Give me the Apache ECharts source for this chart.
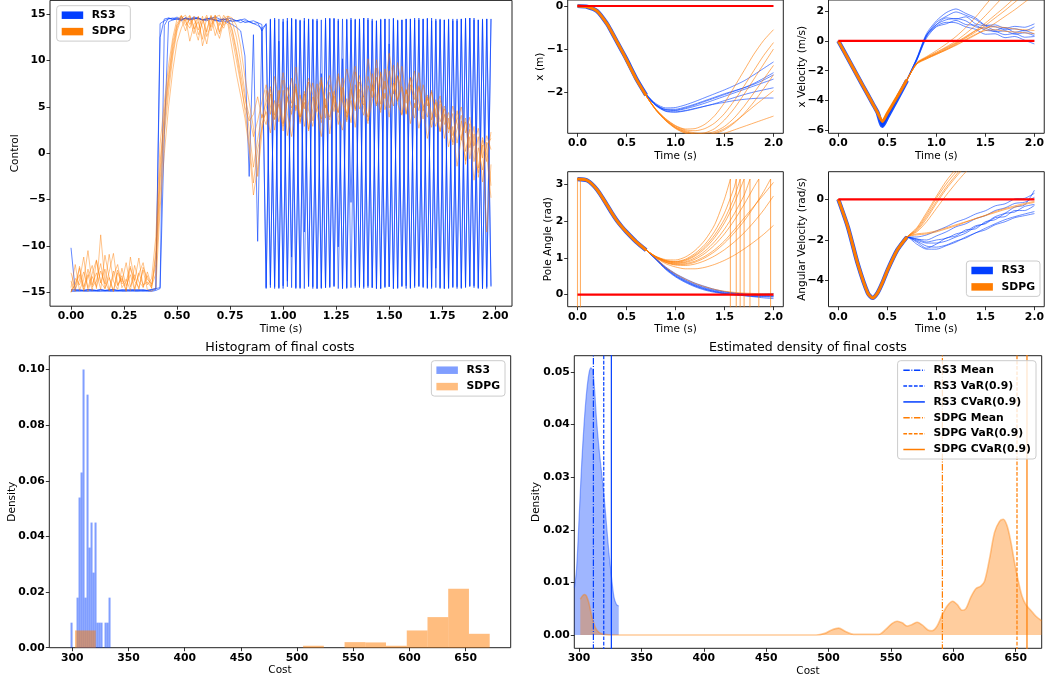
<!DOCTYPE html>
<html><head><meta charset="utf-8">
<script src="https://cdn.jsdelivr.net/npm/echarts/dist/echarts.min.js"></script>
<style>html,body{margin:0;padding:0;background:#fff}#c{width:1047px;height:678px}</style>
</head><body><div id="c"></div>
<script>
// ---------------- DATA ----------------
const methods = ['RS3', 'SDPG'];
// control trajectories, sampled every 0.02 s
const rs3U1 = [-10.2,-14.8,-14.9,-14.8,-14.8,-14.9,-14.8,-14.8,-14.9,-14.8,-14.8,-14.9,-14.8,-14.8,-14.9,-14.8,-14.8,-14.9,-14.8,-14.8,-14.7,
 14.0,14.3,14.5,14.6,14.5,14.4,14.6,14.5,14.5,14.6,14.4,14.5,14.5,14.3,14.4,14.5,14.2,14.4,14.3,14.1,14.3,14.2,14.0,14.1,13.9,
 -14.5,14.4,-14.6,14.5,-14.3,14.6,-14.5,14.4,-14.6,14.3,-14.4,14.5,-14.6,14.4,-14.5,14.6,-14.3,14.5,-14.6,14.4,
 -14.5,14.5,-14.4,14.6,-14.5,14.3,-14.6,14.5,-14.4,14.5,-14.6,14.4,-14.3,14.5,-14.5,14.6,-14.4,14.5,-14.6,14.3,
 -14.5,14.4,-14.6,14.5,-14.4,14.5,-14.5,14.6,-14.3,14.4,-14.6,14.5,-14.4,14.5];
const rs3U2 = [-14.7,-14.8,-14.7,-14.8,-14.7,-14.7,-14.8,-14.7,-14.8,-14.7,-14.7,-14.8,-14.7,-14.8,-14.7,-14.7,-14.8,-14.7,-14.8,-14.7,-14.6,-14.5,
 13.8,14.6,14.5,14.7,14.4,14.6,14.5,14.7,14.6,14.4,14.5,14.6,14.7,14.5,14.4,14.6,14.5,14.3,14.4,14.5,14.2,14.3,14.1,13.2,14.0,
 -14.2,14.6,-14.5,14.2,-13.8,14.5,-14.6,14.4,-8.5,14.5,-14.6,14.3,-14.5,14.6,-14.4,14.5,-14.6,10.2,-14.5,14.6,
 -14.3,14.5,-14.6,14.4,-14.5,14.3,-14.6,14.5,-14.4,14.6,-14.5,14.4,-14.6,14.5,-14.3,14.4,-14.5,14.6,-14.4,14.5,
 -14.6,14.4,-14.5,14.3,-14.6,14.5,-14.4,14.6,-14.5,14.4,-14.6,14.5,-14.3];
const rs3U3 = [-14.9,-14.9,-14.8,-14.9,-14.9,-14.8,-14.9,-14.9,-14.8,-14.9,-14.9,-14.8,-14.9,-14.9,-14.8,-14.9,-14.9,-14.8,-14.9,-14.9,-14.8,-14.6,
 2.0,14.2,14.4,14.5,14.3,14.6,14.4,14.5,14.6,14.4,14.3,14.5,14.4,14.2,14.3,14.1,13.9,13.6,13.2,10.5,-2.5,12.8,-9.5,13.5,
 -14.6,14.5,-14.4,12.1,-14.6,14.3,-11.2,14.5,-14.5,14.6,-14.3,14.4,-14.6,8.6,-14.5,14.5,-14.4,14.3,-14.6,14.5,
 -5.3,14.4,-14.5,14.6,-14.3,14.5,-14.6,14.4,-14.5,11.8,-14.6,14.3,-14.4,14.5,-14.6,14.4,-14.3,14.5,-14.5,14.6,
 -12.4,14.5,-14.6,14.4,-14.5,14.3,-14.6,14.5,-14.4,14.6,-14.5,14.4,-14.6,14.5];
const rs3U4 = [-14.8,-14.7,-14.8,-14.8,-14.7,-14.8,-14.8,-14.7,-14.8,-14.8,-14.7,-14.8,-14.8,-14.7,-14.8,-14.8,-14.7,-14.8,-14.8,-14.7,-14.6,
 12.5,14.5,14.6,14.4,14.5,14.6,14.5,14.4,14.6,14.5,14.4,14.5,14.6,14.4,14.3,14.5,14.4,14.2,14.3,14.4,14.1,14.2,14.0,13.8,13.5,13.9,
 -14.5,14.4,-14.6,14.5,-14.4,14.6,-14.5,14.3,-14.6,14.5,-14.4,14.5,-14.6,14.4,-14.5,14.6,-10.1,14.5,-14.6,14.4,
 -14.5,14.5,-14.4,14.6,-14.5,14.3,-14.6,14.5,-14.4,14.5,-14.6,14.4,-14.3,14.5,-14.5,14.6,-14.4,14.5,-14.6,14.3,
 -14.5,14.4,-14.6,14.5,-14.4,14.5,-14.5,14.6,-14.3,14.4,-14.6,14.5,-14.4];
const sdpgU1 = [-15,-13.5,-14.2,-12.8,-14.5,-13,-11.5,-14,-12.5,-14.8,-13.2,-12,-14.5,-13.8,-12.2,-14.6,-13,-11.8,-14.2,-13.5,
 -9,1,5.5,9.5,12.5,14.5,14.8,14.2,13.5,14.8,12.8,14.1,14.9,13.2,14.6,13.8,14.9,14.2,12.5,10,7.5,5,3.5,4.2,6.1,3.8,
 5.5,7.2,4.1,6.8,3.2,5.9,8.1,4.6,6.3,2.9,5.4,7.6,5.1,3.7,6.9,8.4,5.2,4.4,7.1,3.9,
 6.2,8.8,5.6,4.1,7.3,6.0,9.2,5.3,7.8,4.9,6.6,8.3,4.2,6.9,5.5,3.8,7.1,4.6,5.9,2.8,
 4.9,6.2,3.1,4.4,1.9,3.6,5.0,2.2,3.9,0.8,2.7,-0.5,1.9,0.4];
const sdpgU2 = [-14.5,-12,-14.8,-13.6,-10.5,-14.2,-12.9,-14.7,-11,-13.4,-14.9,-12.6,-13.9,-11.8,-14.4,-13.1,-14.7,-12.3,-13.6,-14.1,
 -12,-3,3,7.5,11,13.5,14.9,13.8,14.5,12.9,14.8,13.6,11.8,14.3,14.9,13.1,14.6,14.8,14.2,12.5,9.8,6.5,2.5,-1.5,1.5,4.2,
 3.1,6.4,2.5,5.8,7.9,4.3,1.8,5.2,3.9,6.7,2.4,4.8,7.5,3.3,5.9,2.1,6.2,4.4,8.1,3.6,
 5.7,2.8,6.9,4.9,3.2,7.4,5.1,8.6,4.7,6.3,9.5,5.8,7.2,4.3,6.8,8.9,5.4,3.7,6.1,4.2,
 2.9,5.3,1.6,3.8,0.9,2.6,4.1,-1.2,1.8,-2.9,0.6,-1.8,1.2,-3.5];
const sdpgU3 = [-15,-14.1,-12.4,-14.9,-13.3,-12.1,-14.6,-8.8,-13.9,-14.8,-12.7,-14.3,-13.2,-14.9,-11.2,-13.8,-14.5,-12.6,-14.7,-14.9,
 -14.5,-6,0,5,9,12,13.5,14.6,12.1,13.9,14.7,11.6,13.4,14.8,12.7,14.1,13.5,14.8,14.6,13.8,11.5,8.2,5.5,2.8,-2.5,2.1,
 6.8,4.2,8.3,5.6,2.9,7.1,5.4,9.3,6.2,4.8,7.7,3.5,6.6,8.2,4.9,7.4,5.8,3.1,6.5,9.1,
 7.2,4.6,8.4,6.1,10.2,7.5,5.3,8.8,6.9,10.8,7.8,5.6,9.4,6.4,8.1,4.9,7.3,5.2,3.9,6.6,
 4.1,2.4,5.1,3.3,1.2,4.6,2.1,-0.8,3.2,0.5,-2.1,1.4,-0.9,2.3];
const sdpgU4 = [-13.8,-14.9,-12.2,-14.4,-13.1,-14.8,-11.6,-13.9,-14.6,-12.8,-10.8,-14.2,-13.5,-14.8,-12.4,-13.7,-11.3,-14.5,-13.2,-14.6,
 -10.5,-1,4,8,11.5,13.8,14.5,13.2,14.8,13.7,12.2,14.5,13.1,14.9,13.6,12.4,14.2,13.9,11.2,8.5,6.2,3.8,0.5,-4.5,-1.5,3.2,
 4.5,2.2,5.7,3.4,6.8,1.9,4.6,7.2,3.9,5.5,2.6,6.1,4.3,1.8,5.2,3.6,6.7,4.1,2.5,5.9,
 3.3,7.4,4.8,6.2,3.5,5.6,8.2,4.7,6.5,3.9,7.6,5.3,4.1,6.8,3.2,5.4,2.7,4.9,1.6,3.8,
 5.5,2.3,4.2,0.7,2.9,-1.4,1.6,3.4,-0.6,2.1,-2.6,0.9,-8.5,-1.2];
const sdpgU5 = [-14.9,-14.2,-13.1,-14.7,-12.5,-14.4,-13.8,-11.9,-14.6,-13.4,-14.9,-12.9,-14.1,-13.6,-14.8,-12.1,-13.9,-14.4,-12.8,-14.3,
 -13,-4.5,2,6.5,10.5,13.2,14.6,14.9,13.9,14.6,13.3,14.8,12.6,13.9,14.7,14.9,13.8,14.5,13.4,11.2,8.6,5.9,4.1,1.8,3.5,5.6,
 7.4,5.1,3.6,6.2,8.7,5.8,4.2,6.9,3.4,5.7,8.1,6.3,4.5,7.9,5.2,3.9,6.4,8.6,5.7,4.3,
 7.6,9.4,6.1,5.2,8.3,6.7,10.1,7.2,5.9,8.9,6.4,9.8,7.1,5.4,8.2,6.3,4.6,7.4,5.1,6.8,
 3.9,5.7,4.2,2.6,5.1,3.3,1.4,3.8,0.6,2.9,-1.6,1.7,-0.2,-4.8];
const sdpgU6 = [-12.9,-14.6,-13.7,-11.2,-14.9,-13.3,-14.4,-12.7,-14.1,-10.9,-13.8,-14.7,-12.4,-14.3,-13.1,-14.8,-12.9,-14.2,-13.9,-14.5,
 -11,-2,4.5,8.5,12,14,14.8,14.3,14.9,13.4,14.2,12.3,14.7,13.6,14.9,12.9,14.4,14.6,13.1,10.8,7.9,4.6,1.2,-3.2,0.4,2.6,
 4.8,6.9,3.7,5.3,2.4,6.1,4.9,7.5,3.2,6.4,4.7,2.9,5.8,7.7,3.8,6.6,4.5,8.3,5.6,3.4,
 6.9,4.8,7.7,5.5,3.9,8.6,6.2,4.4,9.1,6.8,5.1,8.4,6.6,4.2,7.4,5.8,8.7,4.9,6.3,3.6,
 5.8,3.4,4.8,2.2,4.3,1.1,3.5,0.2,2.6,-0.9,1.8,-3.1,0.9,1.6];

// state trajectories sampled at these times
const tS = [0,0.1,0.2,0.3,0.35,0.4,0.45,0.5,0.6,0.7,0.8,0.9,1.0,1.1,1.2,1.3,1.4,1.5,1.6,1.7,1.8,1.9,2.0];
const xPosRS3 = [
 [0,-0.02,-0.12,-0.40,-0.60,-0.81,-1.02,-1.23,-1.68,-2.05,-2.30,-2.42,-2.42,-2.37,-2.30,-2.22,-2.14,-2.06,-1.98,-1.90,-1.80,-1.68,-1.55],
 [0,-0.02,-0.12,-0.41,-0.61,-0.82,-1.03,-1.24,-1.69,-2.07,-2.32,-2.45,-2.47,-2.44,-2.39,-2.33,-2.27,-2.20,-2.13,-2.06,-2.00,-1.95,-1.90],
 [0,-0.02,-0.12,-0.40,-0.60,-0.81,-1.02,-1.23,-1.67,-2.04,-2.27,-2.37,-2.36,-2.30,-2.22,-2.13,-2.04,-1.95,-1.85,-1.74,-1.60,-1.45,-1.30],
 [0,-0.02,-0.12,-0.41,-0.61,-0.82,-1.03,-1.24,-1.69,-2.07,-2.31,-2.44,-2.46,-2.43,-2.38,-2.33,-2.28,-2.24,-2.20,-2.17,-2.15,-2.14,-2.14],
 [0,-0.02,-0.12,-0.40,-0.60,-0.81,-1.02,-1.23,-1.68,-2.06,-2.29,-2.40,-2.40,-2.35,-2.28,-2.20,-2.12,-2.04,-1.97,-1.90,-1.82,-1.72,-1.60],
 [0,-0.02,-0.12,-0.40,-0.60,-0.81,-1.02,-1.23,-1.68,-2.06,-2.30,-2.41,-2.43,-2.39,-2.33,-2.26,-2.18,-2.10,-2.02,-1.94,-1.86,-1.78,-1.70]];
const xPosSDPG = [
 [0,-0.02,-0.12,-0.41,-0.61,-0.82,-1.03,-1.25,-1.70,-2.08,-2.40,-2.62,-2.78,-2.86,-2.85,-2.75,-2.55,-2.25,-1.88,-1.50,-1.12,-0.80,-0.55],
 [0,-0.02,-0.12,-0.41,-0.61,-0.82,-1.03,-1.25,-1.71,-2.09,-2.42,-2.66,-2.83,-2.93,-2.97,-2.95,-2.85,-2.65,-2.38,-2.05,-1.70,-1.35,-1.00],
 [0,-0.02,-0.13,-0.42,-0.62,-0.83,-1.04,-1.26,-1.71,-2.09,-2.41,-2.65,-2.82,-2.92,-2.98,-3.00,-2.97,-2.88,-2.72,-2.50,-2.23,-1.92,-1.60],
 [0,-0.02,-0.12,-0.41,-0.61,-0.82,-1.03,-1.25,-1.70,-2.09,-2.42,-2.67,-2.85,-2.96,-3.02,-3.04,-3.02,-2.96,-2.88,-2.80,-2.72,-2.64,-2.56],
 [0,-0.02,-0.12,-0.41,-0.61,-0.82,-1.03,-1.25,-1.70,-2.08,-2.40,-2.63,-2.79,-2.88,-2.90,-2.85,-2.72,-2.50,-2.20,-1.86,-1.50,-1.15,-0.85],
 [0,-0.02,-0.12,-0.41,-0.61,-0.82,-1.03,-1.25,-1.70,-2.08,-2.41,-2.64,-2.81,-2.90,-2.95,-2.96,-2.92,-2.80,-2.60,-2.33,-2.02,-1.70,-1.38],
 [0,-0.02,-0.13,-0.42,-0.62,-0.83,-1.04,-1.26,-1.71,-2.09,-2.42,-2.66,-2.84,-2.95,-3.00,-3.00,-2.95,-2.85,-2.70,-2.52,-2.33,-2.15,-1.97]];
const xVelRS3 = [
 [0,-1.2,-2.4,-3.6,-4.2,-4.8,-5.6,-5.05,-3.85,-2.6,-1.2,0.4,1.1,1.55,1.48,1.62,1.15,1.0,0.72,0.9,0.58,0.7,0.45],
 [0,-1.2,-2.4,-3.6,-4.2,-4.8,-5.7,-5.1,-3.9,-2.65,-1.3,0.2,0.95,1.15,1.38,1.1,1.05,0.72,0.65,0.42,0.5,0.25,0.3],
 [0,-1.2,-2.4,-3.6,-4.2,-4.8,-5.65,-5.1,-3.85,-2.6,-1.15,0.5,1.35,1.9,2.15,1.85,1.55,1.05,0.95,0.75,0.82,0.68,0.95],
 [0,-1.2,-2.4,-3.6,-4.2,-4.8,-5.55,-5.0,-3.8,-2.55,-1.25,0.3,1.0,1.25,1.22,0.95,0.78,0.45,0.48,0.22,0.3,0.05,-0.2],
 [0,-1.2,-2.4,-3.6,-4.2,-4.8,-5.75,-5.15,-3.9,-2.65,-1.3,0.35,1.25,1.65,1.95,1.72,1.45,1.05,1.08,0.85,0.98,0.92,1.15],
 [0,-1.2,-2.4,-3.6,-4.2,-4.8,-5.6,-5.05,-3.85,-2.6,-1.2,0.4,1.1,1.42,1.5,1.35,0.95,0.85,0.62,0.68,0.45,0.55,0.35]];
const xVelSDPG = [
 [0,-1.2,-2.4,-3.6,-4.2,-4.8,-5.4,-4.85,-3.75,-2.6,-1.5,-1.1,-0.75,-0.4,0.0,0.5,1.05,1.7,2.4,3.1,3.8,4.5,5.2],
 [0,-1.2,-2.4,-3.6,-4.2,-4.8,-5.4,-4.85,-3.75,-2.6,-1.5,-1.15,-0.85,-0.55,-0.2,0.2,0.6,1.05,1.55,2.05,2.6,3.15,3.7],
 [0,-1.2,-2.4,-3.6,-4.2,-4.8,-5.4,-4.85,-3.75,-2.6,-1.55,-1.2,-0.9,-0.6,-0.3,0.05,0.4,0.8,1.2,1.65,2.1,2.6,3.1],
 [0,-1.2,-2.4,-3.6,-4.2,-4.8,-5.4,-4.85,-3.75,-2.6,-1.5,-1.1,-0.8,-0.45,-0.1,0.3,0.7,0.9,0.95,0.9,0.8,0.75,0.7],
 [0,-1.2,-2.4,-3.6,-4.2,-4.8,-5.4,-4.85,-3.75,-2.6,-1.45,-1.05,-0.65,-0.2,0.3,0.9,1.6,2.4,3.2,4.0,4.8,5.6,6.4],
 [0,-1.2,-2.4,-3.6,-4.2,-4.8,-5.4,-4.85,-3.75,-2.6,-1.5,-1.15,-0.85,-0.5,-0.15,0.25,0.7,1.2,1.75,2.3,2.9,3.5,4.1],
 [0,-1.2,-2.4,-3.6,-4.2,-4.8,-5.4,-4.85,-3.75,-2.6,-1.55,-1.2,-0.9,-0.6,-0.25,0.1,0.45,0.7,0.75,0.65,0.6,0.55,0.5]];
// pole angle: common start (first 10 samples of tS), then tails
const poleStart = [3.14,3.1,2.85,2.44,2.22,2.02,1.85,1.7,1.43,1.21];
const poleTailRS3 = [
 [0.97,0.72,0.53,0.38,0.26,0.17,0.10,0.05,0.02,0.00,-0.02,-0.03,-0.04],
 [0.95,0.68,0.48,0.33,0.21,0.12,0.06,0.02,-0.01,-0.03,-0.05,-0.06,-0.07],
 [0.98,0.75,0.57,0.43,0.31,0.22,0.14,0.08,0.04,0.01,-0.01,-0.02,-0.02],
 [0.96,0.70,0.50,0.35,0.23,0.14,0.08,0.03,0.00,-0.03,-0.06,-0.09,-0.11],
 [0.97,0.73,0.55,0.40,0.28,0.19,0.12,0.07,0.04,0.02,0.01,0.02,0.03],
 [0.96,0.71,0.51,0.36,0.24,0.15,0.08,0.03,0.00,-0.02,-0.04,-0.05,-0.05]];
const poleTailSDPG = [
 [[0.8,1.03],[0.9,0.92],[1.0,0.88],[1.1,0.92],[1.2,1.05],[1.3,1.25],[1.4,1.55],[1.5,1.95],[1.6,2.48],[1.7,3.14]],
 [[0.8,1.02],[0.9,0.9],[1.0,0.85],[1.1,0.87],[1.2,0.96],[1.3,1.12],[1.4,1.35],[1.5,1.65],[1.6,2.02],[1.7,2.45],[1.8,2.92],[1.85,3.14]],
 [[0.8,1.04],[0.9,0.95],[1.0,0.94],[1.1,1.02],[1.2,1.2],[1.3,1.48],[1.4,1.9],[1.5,2.6],[1.56,3.14]],
 [[0.8,1.01],[0.9,0.87],[1.0,0.8],[1.1,0.79],[1.2,0.83],[1.3,0.92],[1.4,1.05],[1.5,1.22],[1.6,1.43],[1.7,1.68],[1.8,1.97],[1.9,2.3],[2.0,2.68]],
 [[0.8,1.02],[0.9,0.88],[1.0,0.82],[1.1,0.82],[1.2,0.88],[1.3,1.0],[1.4,1.17],[1.5,1.4],[1.6,1.68],[1.7,2.0],[1.8,2.38],[1.9,2.8],[1.97,3.14]],
 [[0.8,0.98],[0.9,0.74],[1.0,0.56],[1.1,0.42],[1.2,0.3],[1.3,0.21],[1.4,0.14],[1.5,0.09],[1.6,0.06],[1.7,0.04],[1.8,0.03],[1.9,0.02],[2.0,0.02]],
 [[0.8,1.0],[0.9,0.84],[1.0,0.75],[1.1,0.7],[1.2,0.7],[1.3,0.74],[1.4,0.82],[1.5,0.93],[1.6,1.07],[1.7,1.24],[1.8,1.43],[1.9,1.64],[2.0,1.88]],
 [[0.8,1.03],[0.9,0.93],[1.0,0.9],[1.1,0.96],[1.2,1.12],[1.3,1.36],[1.4,1.72],[1.5,2.22],[1.6,2.92],[1.62,3.14]],
 [[0.8,1.02],[0.9,0.91],[1.0,0.86],[1.1,0.89],[1.2,1.0],[1.3,1.18],[1.4,1.44],[1.5,1.78],[1.6,2.2],[1.7,2.7],[1.76,3.14]],
 [[0.8,1.01],[0.9,0.88],[1.0,0.83],[1.1,0.84],[1.2,0.91],[1.3,1.04],[1.4,1.22],[1.5,1.46],[1.6,1.76],[1.7,2.08],[1.8,2.4],[1.9,2.72],[2.0,3.05]],
 [[0.8,1.03],[0.9,0.92],[1.0,0.89],[1.1,0.94],[1.2,1.08],[1.3,1.3],[1.4,1.62],[1.5,2.05],[1.6,2.65],[1.66,3.14]]];
const poleWrapStartSDPG = [[0,3.14],[0,-3.14],[0.03,-3.14],[0.03,3.13]];
const poleWrapLimit = 3.14;
// angular velocity: common start then tails
const angStart = [0,-1.4,-3.2,-4.6,-4.85,-4.6,-4.1,-3.5,-2.5,-1.85];
const angTailRS3 = [
 [-1.95,-2.1,-2.0,-1.92,-1.7,-1.58,-1.3,-1.2,-0.9,-0.85,-0.55,-0.55,-0.3],
 [-2.2,-2.45,-2.45,-2.28,-2.1,-1.85,-1.65,-1.42,-1.2,-1.0,-0.85,-0.72,-0.6],
 [-1.85,-1.75,-1.55,-1.35,-1.12,-0.95,-0.72,-0.56,-0.32,-0.22,0.02,0.05,0.3],
 [-2.05,-2.3,-2.35,-2.25,-2.05,-1.9,-1.65,-1.5,-1.25,-1.1,-0.9,-0.8,-0.7],
 [-1.95,-2.0,-1.8,-1.6,-1.35,-1.2,-0.95,-0.8,-0.55,-0.42,-0.2,-0.14,0.1],
 [-2.0,-2.15,-2.15,-2.05,-1.85,-1.66,-1.36,-1.16,-0.85,-0.68,-0.38,-0.28,0.45],
 [-2.1,-2.4,-2.2,-1.9,-1.8,-1.5,-1.45,-1.1,-1.0,-0.7,-0.62,-0.35,-0.25]];
const angTailSDPG = [
 [-1.45,-0.75,0.05,0.75,1.35,1.9,2.4,2.9,3.3,3.7,4.0,4.3,4.6],
 [-1.55,-0.95,-0.2,0.5,1.1,1.65,2.15,2.6,3.0,3.4,3.7,4.0,4.3],
 [-1.5,-0.85,-0.1,0.6,1.2,1.8,2.3,2.8,3.2,3.6,3.9,4.2,4.5],
 [-1.7,-1.65,-1.55,-1.4,-1.25,-1.1,-0.95,-0.8,-0.65,-0.5,-0.38,-0.25,-0.15],
 [-1.4,-0.65,0.15,0.9,1.5,2.0,2.5,3.0,3.4,3.8,4.1,4.4,4.7],
 [-1.75,-1.7,-1.6,-1.45,-1.3,-1.12,-0.95,-0.78,-0.6,-0.45,-0.32,-0.2,-0.1],
 [-1.6,-1.1,-0.45,0.2,0.8,1.35,1.85,2.3,2.7,3.1,3.4,3.7,4.0]];
const targetLine = [[0,0],[2,0]];

// histogram of final costs (bin edges + densities)
const rs3BinEdges = [298.4,300.18,301.96,303.74,305.52,307.3,309.08,310.86,312.64,314.42,316.2,317.98,319.76,321.54,323.32,325.1,326.88,328.66,330.44,332.22,334.0];
const rs3BinDens = [0.009,0,0,0.018,0.054,0.063,0.100,0.018,0.091,0.036,0.045,0.027,0.045,0.009,0.009,0.009,0,0.009,0.009,0.018];
const sdpgBinEdges = [302.4,320.85,339.3,357.75,376.2,394.65,413.1,431.55,450.0,468.45,486.9,505.35,523.8,542.25,560.7,579.15,597.6,616.05,634.5,652.95,671.4];
const sdpgBinDens = [0.0062,0,0,0,0,0,0,0,0,0,0,0.0007,0,0.002,0.0019,0.0007,0.0062,0.011,0.0212,0.005];

// kernel density estimates
const rs3KdeX = [296.3,298,300,302,304,306,308,309.5,311,312.5,314,316,318,320,322,324,326,328,330,331.8];
const rs3KdeY = [0.009,0.0125,0.022,0.032,0.040,0.046,0.0498,0.0508,0.0503,0.0465,0.041,0.0355,0.031,0.0265,0.021,0.0155,0.011,0.0072,0.0058,0.0055];
const sdpgKdeX = [301,303,304.5,306,308,310,312,314,316,320,330,490,497,502,508,514,520,540,546,551,555,559,563,567,571,575,580,583,587,591,595,599.5,603,607,610,614,618,622,625,629,633,637,640,643,646,649,652,655,658,662,666,670.8];
const sdpgKdeY = [0.0068,0.0075,0.0077,0.0074,0.006,0.0038,0.0021,0.001,0.0005,0.0001,0,0,0.0003,0.0009,0.0013,0.0006,0.0001,0.0001,0.0011,0.0022,0.0026,0.0023,0.0017,0.002,0.0024,0.0019,0.0009,0.0008,0.0017,0.0038,0.0055,0.0064,0.0058,0.0047,0.005,0.0072,0.0088,0.0093,0.0102,0.0145,0.0195,0.0216,0.022,0.0208,0.0178,0.0138,0.0103,0.0074,0.0058,0.0047,0.0036,0.0027];
const statNames = ['Mean','VaR(0.9)','CVaR(0.9)'];
const rs3Stats = [311.5,319.8,325.9];
const sdpgStats = [591.2,651.0,659.0];

// tick labels
const ticksControlX = [0,0.25,0.5,0.75,1,1.25,1.5,1.75,2];
const ticksControlY = [-15,-10,-5,0,5,10,15];
const ticksTime = [0,0.5,1,1.5,2];
const ticksXPos = [-2,-1,0];
const ticksXVel = [-6,-4,-2,0,2];
const ticksPole = [0,1,2,3];
const ticksAng = [-4,-2,0];
const ticksCost = [300,350,400,450,500,550,600,650];
const ticksHistY = [0,0.02,0.04,0.06,0.08,0.10];
const ticksKdeY = [0,0.01,0.02,0.03,0.04,0.05];

// ---------------- CHART ----------------
const C_RS3 = '#023eff', C_SDPG = '#ff7c00', C_RED = '#ff0000';
const FONT = 'DejaVu Sans';
const tControl = rs3U1.map((_, i) => Math.round(i * 2) / 100);

const grids = [
  {left:50, top:0.4, width:462, height:305.8},
  {left:567.7, top:0, width:215.6, height:133.3},
  {left:828.5, top:0, width:216.8, height:133.3},
  {left:567.7, top:171.7, width:215.6, height:135},
  {left:828.5, top:171.7, width:216.8, height:135},
  {left:49.3, top:355.7, width:461.4, height:292},
  {left:574.3, top:355.7, width:467.4, height:292.6}
].map(g => Object.assign(g, {show:true, borderColor:'#222', borderWidth:1, backgroundColor:'rgba(0,0,0,0)'}));

function fmt(d) { return v => (v < 0 ? '\u2212' : '') + Math.abs(v).toFixed(d); }
function axis(dim, gi, min, max, ticks, d, name, gap) {
  const a = {type:'value', gridIndex:gi, min, max, name, nameLocation:'middle', nameGap:gap, nameMoveOverlap:false,
    nameTextStyle:{fontFamily:FONT, fontSize:10.5, color:'#000'},
    axisLine:{show:false, onZero:false}, splitLine:{show:false},
    axisTick:{show:true, inside:false, length:3.5, lineStyle:{color:'#000', width:0.8}, customValues:ticks},
    axisLabel:{show:true, customValues:ticks, formatter:fmt(d), fontFamily:FONT, fontWeight:'bold', fontSize:10.8, color:'#000', margin:4.5}};
  if (dim === 'y') a.nameRotate = 90;
  return a;
}
const xAxis = [
  axis('x',0,-0.099,2.079,ticksControlX,2,'Time (s)',18),
  axis('x',1,-0.1,2.1,ticksTime,1,'Time (s)',17.5),
  axis('x',2,-0.1,2.1,ticksTime,1,'Time (s)',17.5),
  axis('x',3,-0.1,2.1,ticksTime,1,'Time (s)',17.5),
  axis('x',4,-0.1,2.1,ticksTime,1,'Time (s)',17.5),
  axis('x',5,279.5,690.1,ticksCost,0,'Cost',17.5),
  axis('x',6,296.2,670.8,ticksCost,0,'Cost',17.5)];
const yAxis = [
  axis('y',0,-16.5,16.5,ticksControlY,0,'Control',29),
  axis('y',1,-2.96,0.14,ticksXPos,0,'x (m)',22.4),
  axis('y',2,-6.2,2.75,ticksXVel,0,'x Velocity (m/s)',20.8),
  axis('y',3,-0.33,3.34,ticksPole,0,'Pole Angle (rad)',13.7),
  axis('y',4,-5.28,1.36,ticksAng,0,'Angular Velocity (rad/s)',20.8),
  axis('y',5,0,0.105,ticksHistY,2,'Density',31.6),
  axis('y',6,-0.00254,0.0531,ticksKdeY,2,'Density',32.3)];

const series = [];
function line(name, gi, data, color, opacity, width, smooth, extra) {
  const s = {type:'line', name, xAxisIndex:gi, yAxisIndex:gi, data, symbol:'none', showSymbol:false,
    smooth: smooth || false, lineStyle:{color, opacity, width}, itemStyle:{color}, silent:true, clip:true};
  return Object.assign(s, extra || {});
}
const onGrid = arr => arr.map((v, i) => [tS[i], v]);

// control
[rs3U1, rs3U2, rs3U3, rs3U4].forEach(u => series.push(line('RS3', 0, u.map((v, i) => [tControl[i], v]), C_RS3, 0.62, 1)));
[sdpgU1, sdpgU2, sdpgU3, sdpgU4, sdpgU5, sdpgU6].forEach(u => series.push(line('SDPG', 0, u.map((v, i) => [tControl[i], v]), C_SDPG, 0.45, 1)));

// generic state panel
function statePanel(gi, rs3Traces, sdpgTraces, bundleRS3, bundleSDPG, extraSDPG) {
  rs3Traces.forEach(d => series.push(line('RS3', gi, d, C_RS3, 0.6, 1, 0.25)));
  series.push(line('RS3', gi, bundleRS3, C_RS3, 0.9, 4.2, 0.25));
  sdpgTraces.forEach(d => series.push(line('SDPG', gi, d, C_SDPG, 0.6, 1, 0.25)));
  (extraSDPG || []).forEach(d => series.push(line('SDPG', gi, d, C_SDPG, 0.6, 1.1, false)));
  series.push(line('SDPG', gi, bundleSDPG, C_SDPG, 1, 3, 0.25));
  series.push(line('target', gi, targetLine, C_RED, 1, 2.2, false));
}
statePanel(1, xPosRS3.map(onGrid), xPosSDPG.map(onGrid), onGrid(xPosRS3[1]).slice(0, 10), onGrid(xPosSDPG[0]).slice(0, 10));
statePanel(2, xVelRS3.map(onGrid), xVelSDPG.map(onGrid), onGrid(xVelRS3[1]).slice(0, 10), onGrid(xVelSDPG[0]).slice(0, 10));
const poleStartPairs = poleStart.map((v, i) => [tS[i], v]);
const poleWraps = poleTailSDPG.filter(tr => tr[tr.length - 1][1] >= poleWrapLimit)
  .map(tr => { const p = tr[tr.length - 1]; return [[p[0], p[1]], [p[0], -p[1]]]; });
statePanel(3, poleTailRS3.map(tl => onGrid(poleStart.concat(tl))), poleTailSDPG.map(tl => poleStartPairs.concat(tl)),
  poleStartPairs, poleStartPairs, poleWraps.concat([poleWrapStartSDPG]));
statePanel(4, angTailRS3.map(tl => onGrid(angStart.concat(tl))), angTailSDPG.map(tl => onGrid(angStart.concat(tl))),
  onGrid(angStart), onGrid(angStart));

// histogram
function hist(name, edges, dens, fill) {
  const data = dens.map((h, i) => [edges[i], edges[i + 1], h]).filter(d => d[2] > 0);
  return {type:'custom', name, xAxisIndex:5, yAxisIndex:5, data, encode:{x:[0,1], y:2}, silent:true,
    itemStyle:{color:fill},
    renderItem: (p, api) => {
      const a = api.coord([api.value(0), api.value(2)]);
      const b = api.coord([api.value(1), 0]);
      return {type:'rect', shape:{x:a[0], y:a[1], width:b[0] - a[0], height:b[1] - a[1]}, style:{fill}};
    }};
}
series.push(hist('RS3', rs3BinEdges, rs3BinDens, 'rgba(2,62,255,0.5)'));
series.push(hist('SDPG', sdpgBinEdges, sdpgBinDens, 'rgba(255,124,0,0.5)'));

// KDE
series.push(line('RS3 KDE', 6, rs3KdeX.map((x, i) => [x, rs3KdeY[i]]), C_RS3, 0.4, 1.2, 0.3, {areaStyle:{color:C_RS3, opacity:0.38}}));
series.push(line('SDPG KDE', 6, sdpgKdeX.map((x, i) => [x, sdpgKdeY[i]]), C_SDPG, 0.4, 1.6, 0.3, {areaStyle:{color:C_SDPG, opacity:0.38}}));
const dashes = [[6.4,1.6,1,1.6], [3.7,1.6], 'solid'];
const statLegend = [];
[['RS3', rs3Stats, C_RS3], ['SDPG', sdpgStats, C_SDPG]].forEach(([m, vals, col]) => {
  statNames.forEach((nm, k) => {
    const name = m + ' ' + nm;
    series.push(line(name, 6, [[vals[k], -0.003], [vals[k], 0.06]], col, 1, 1.2, false, {lineStyle:{color:col, width:1.2, type:dashes[k]}}));
    statLegend.push({name, lineStyle:{color:col, width:1.5, type:dashes[k], opacity:1}, itemStyle:{color:col, opacity:0}});
  });
});

const legendBase = {orient:'vertical', itemWidth:21.5, itemHeight:7.5, itemGap:4.4, padding:[3.5,5,3.5,5],
  backgroundColor:'rgba(255,255,255,0.8)', borderColor:'#cccccc', borderWidth:1, borderRadius:3, selectedMode:false,
  textStyle:{fontFamily:FONT, fontWeight:'bold', fontSize:10.8, color:'#000', lineHeight:12, padding:[0,0,0,3.6]}};
const patchItems = (c1, c2) => [
  {name:methods[0], icon:'rect', itemStyle:{color:c1, opacity:1, borderWidth:0}},
  {name:methods[1], icon:'rect', itemStyle:{color:c2, opacity:1, borderWidth:0}}];
const legend = [
  Object.assign({}, legendBase, {left:56.7, top:5.7, data:patchItems(C_RS3, C_SDPG)}),
  Object.assign({}, legendBase, {right:7, top:261, data:patchItems(C_RS3, C_SDPG)}),
  Object.assign({}, legendBase, {right:542, top:360.7, data:patchItems('rgba(2,62,255,0.5)', 'rgba(255,124,0,0.5)')}),
  Object.assign({}, legendBase, {right:11, top:360.7, itemGap:3.86, data:statLegend})];

const graphic = [
  {type:'text', x:280, y:347.7, style:{text:'Histogram of final costs', fontFamily:FONT, fontSize:12.6, fill:'#000', align:'center', verticalAlign:'middle'}},
  {type:'text', x:808, y:347.7, style:{text:'Estimated density of final costs', fontFamily:FONT, fontSize:12.6, fill:'#000', align:'center', verticalAlign:'middle'}}];

const chart = echarts.init(document.getElementById('c'), null, {renderer:'canvas', width:1047, height:678});
chart.setOption({animation:false, backgroundColor:'#fff', grid:grids, xAxis, yAxis, series, legend, graphic});
</script></body></html>
